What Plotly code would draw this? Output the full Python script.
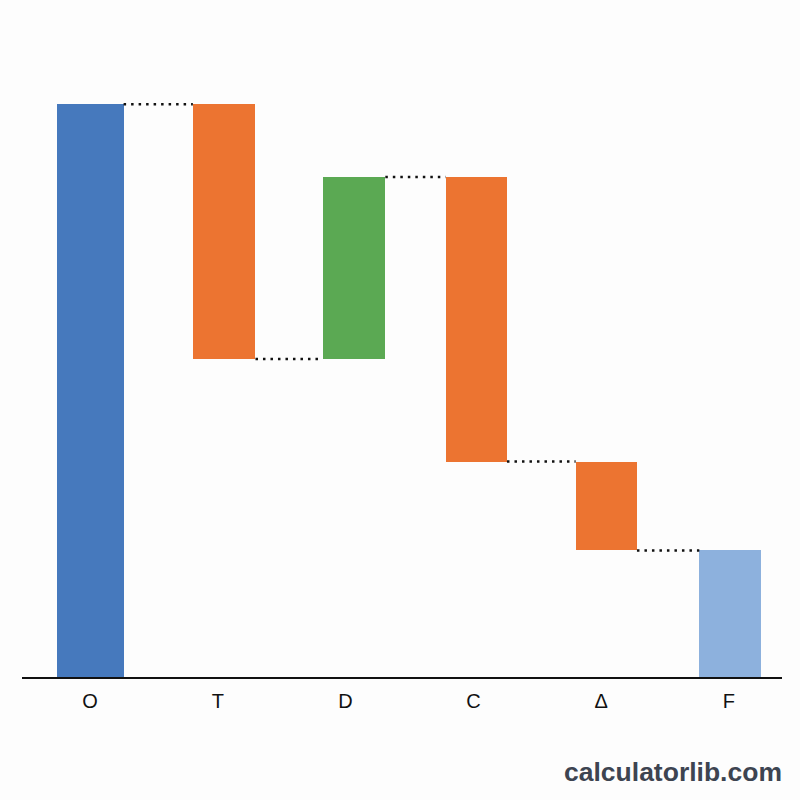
import plotly.graph_objects as go

categories = ["O", "T", "D", "C", "Δ", "F"]
changes = [100.0, -44.5, 31.8, -49.7, -15.5, None]  # None = total
kinds = ["start", "dec", "inc", "dec", "dec", "total"]
colors = {"start": "#4679BD", "dec": "#EC7431", "inc": "#5BA953", "total": "#8DB1DD"}
widths = [0.52, 0.49, 0.49, 0.48, 0.48, 0.48]
bar_shift = [0.003, 0.05, 0.066, 0.023, 0.04, 0.008]

# compute floating bars
bases, heights, ends = [], [], []
level = 0.0
for ch, k in zip(changes, kinds):
    if k == "start":
        bases.append(0.0); heights.append(ch); level = ch
    elif k == "total":
        bases.append(0.0); heights.append(level)
    else:
        new = level + ch
        bases.append(min(level, new)); heights.append(abs(ch)); level = new
    ends.append(level)

xs = list(range(len(categories)))
bx = [x + s for x, s in zip(xs, bar_shift)]
fig = go.Figure()
fig.add_trace(go.Bar(
    x=bx, y=heights, base=bases, width=widths,
    marker=dict(color=[colors[k] for k in kinds], line=dict(width=0)),
    hoverinfo="skip", showlegend=False,
))

# connectors
for i in range(len(categories) - 1):
    lv = ends[i]
    fig.add_trace(go.Scatter(
        x=[bx[i] + widths[i] / 2, bx[i + 1] - widths[i + 1] / 2], y=[lv, lv],
        mode="lines", line=dict(color="#111111", width=2.5, dash="2.5px,5px"),
        hoverinfo="skip", showlegend=False,
    ))

fig.update_layout(
    width=800, height=800,
    margin=dict(l=22, r=18, t=40, b=123),
    paper_bgcolor="#FDFDFD", plot_bgcolor="#FDFDFD",
    font=dict(family="Liberation Sans, Arial, sans-serif", color="#111111"),
    bargap=0,
    xaxis=dict(
        range=[-0.532, 5.415], tickvals=xs, ticktext=categories,
        showgrid=False, zeroline=False, showline=True, linecolor="#111111",
        linewidth=2, ticks="", tickfont=dict(size=20, color="#111111"),
        ticklabelstandoff=5, fixedrange=True,
    ),
    yaxis=dict(range=[0, 111.2], visible=False, showgrid=False, zeroline=False),
    annotations=[dict(
        text="<b>calculatorlib.com</b>", xref="paper", yref="paper",
        x=1.003, y=-0.149, xanchor="right", yanchor="middle", showarrow=False,
        font=dict(size=26.5, color="#3D4451", family="Liberation Sans, Arial, sans-serif"),
    )],
)

fig.write_html("out.html")
